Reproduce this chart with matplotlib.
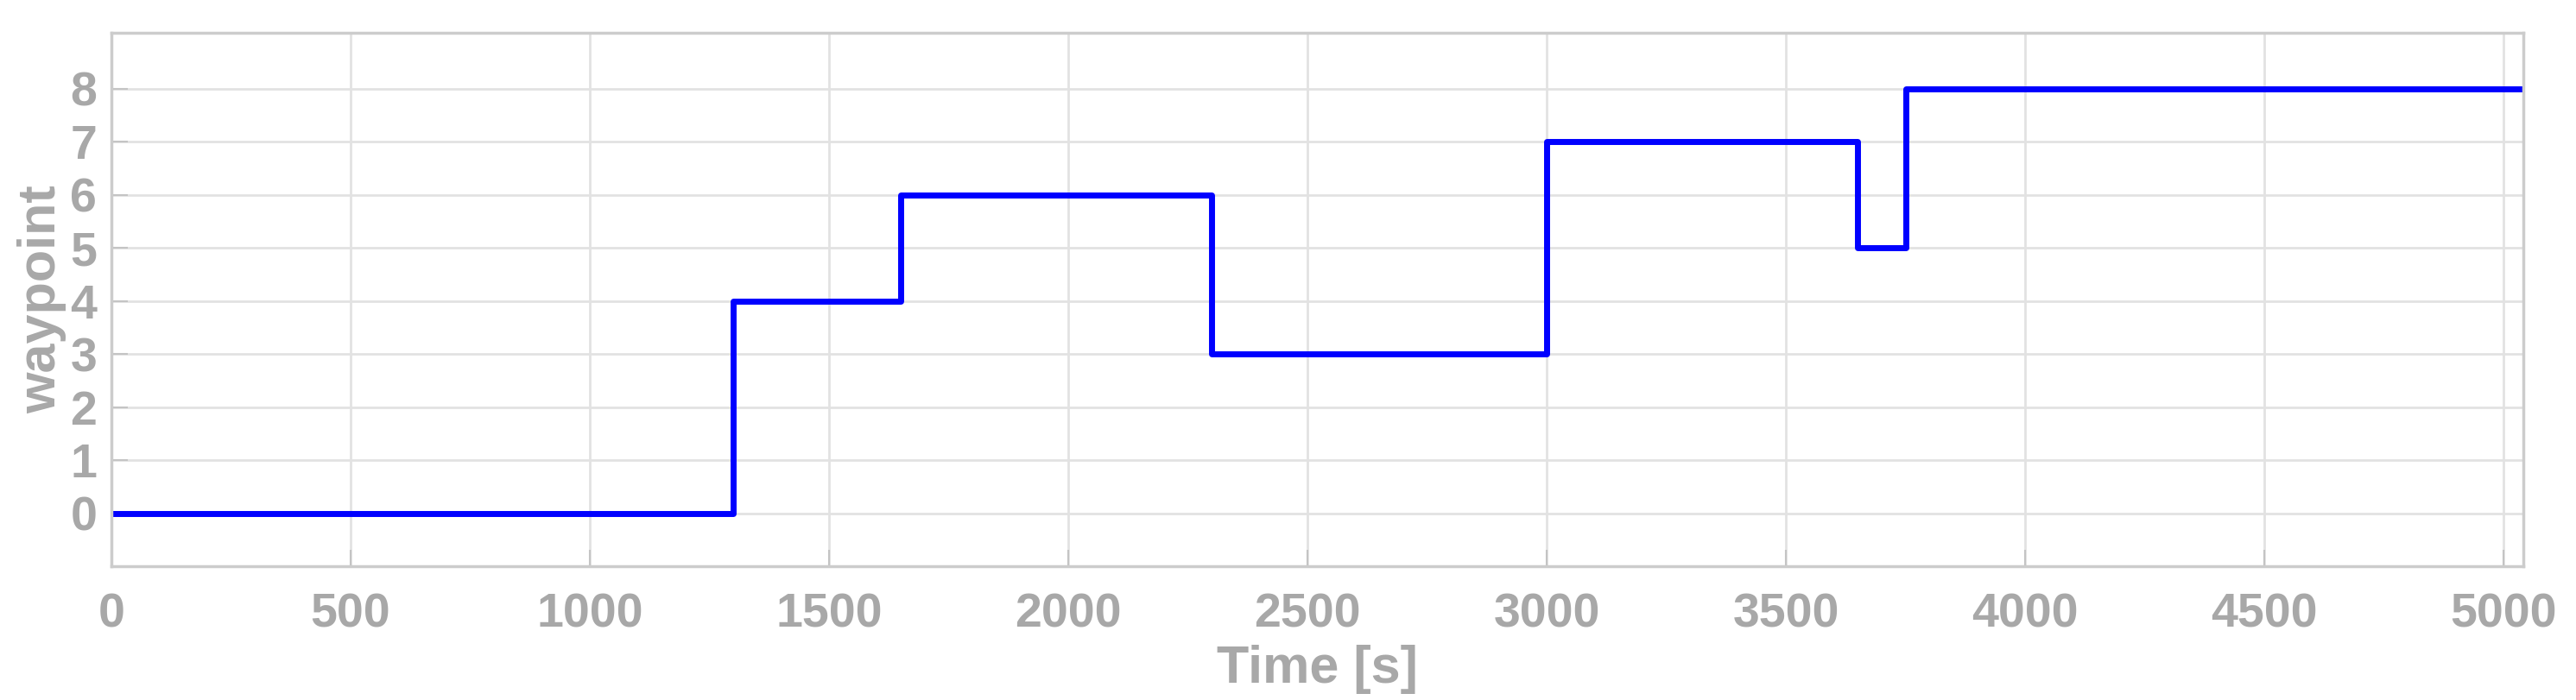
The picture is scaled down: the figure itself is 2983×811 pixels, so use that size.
import numpy as np
import matplotlib
matplotlib.use('Agg')
import matplotlib.pyplot as plt

# step data
t_switch = [0, 1300, 1650, 2300, 3000, 3650, 3750, 5041]
waypoint = [0, 4, 6, 3, 7, 5, 8, 8]

x_ticks = [0, 500, 1000, 1500, 2000, 2500, 3000, 3500, 4000, 4500, 5000]
y_ticks = [0, 1, 2, 3, 4, 5, 6, 7, 8]

plt.rcParams['font.family'] = ['Liberation Sans', 'DejaVu Sans']
plt.rcParams['font.weight'] = 'bold'
txt_col = '#a8a8a8'

fig = plt.figure(figsize=(29.83, 8.11), dpi=100)
ax = fig.add_subplot(111)
fig.subplots_adjust(left=0.0432, right=0.9796, top=0.953, bottom=0.191)

ax.step(t_switch, waypoint, where='post', color='#0000ff', linewidth=5)

ax.set_xlim(0, 5041)
ax.set_ylim(-1, 9.05)
ax.set_xticks(x_ticks)
ax.set_yticks(y_ticks)
ax.grid(True, color='#e2e2e2', linewidth=2)
ax.set_axisbelow(True)

for s in ax.spines.values():
    s.set_color('#cccccc')
    s.set_linewidth(2.5)

ax.tick_params(direction='in', length=14, width=1.5, color='#c4c4c4',
               labelcolor=txt_col, labelsize=40, pad=12)
ax.tick_params(axis='x', pad=22)
for lab in ax.get_xticklabels() + ax.get_yticklabels():
    lab.set_fontweight('bold')

ax.set_xlabel('Time [s]', fontsize=44, fontweight='bold', color=txt_col, labelpad=6)
ax.set_ylabel('waypoint', fontsize=44, fontweight='bold', color=txt_col, labelpad=3)

fig.savefig('out.png', dpi=100, facecolor='white')
